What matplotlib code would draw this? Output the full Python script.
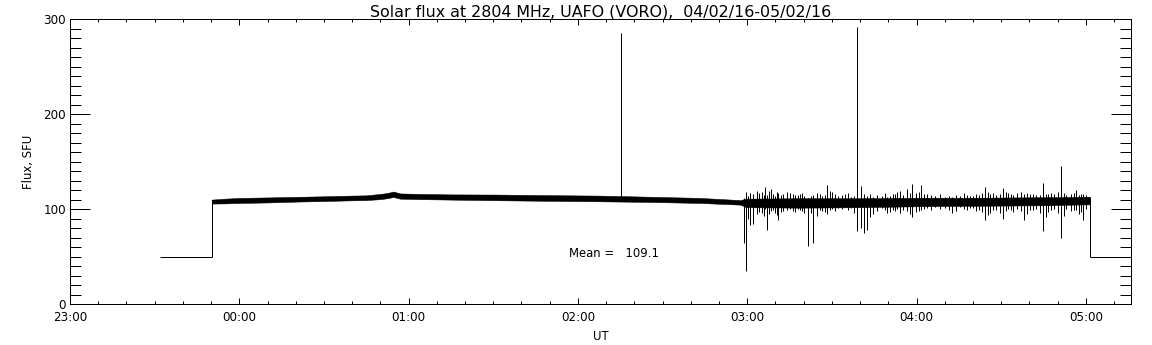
import matplotlib
matplotlib.use("Agg")
import matplotlib.pyplot as plt
from matplotlib.ticker import FixedLocator, MultipleLocator

# ---- DATA (time in minutes after 23:00 UT, flux in SFU) ------------------
TITLE = "Solar flux at 2804 MHz, UAFO (VORO),  04/02/16-05/02/16"
TICK_MIN = [0, 60, 120, 180, 240, 300, 360]
TICK_LABELS = ["23:00", "00:00", "01:00", "02:00", "03:00", "04:00", "05:00"]
MEAN_FLUX = 109.1

# filler value written outside the recording window
PAD_LEVEL = 50.0
PAD_BEFORE = [32.0, 50.2]
PAD_AFTER = [361.3, 376.0]

# dense trace, drawn as its lower/upper envelope
BAND_T = [50.2, 55.0, 60.3, 70.0, 81.6, 90.0, 99.3, 105.0, 110.0, 112.5,
          114.6, 117.0, 124.0, 135.0, 152.0, 170.0, 188.0, 206.0, 223.0,
          237.5, 239.7, 258.7, 280.0, 301.0, 322.0, 344.0, 361.3]
BAND_LO = [105.8, 106.0, 106.5, 107.0, 108.0, 108.5, 109.2, 109.5, 110.5,
           111.5, 112.8, 111.0, 110.5, 110.0, 109.3, 108.7, 108.2, 107.5,
           106.5, 104.7, 102.0, 101.5, 102.0, 103.0, 103.5, 104.0, 105.0]
BAND_HI = [110.0, 111.0, 111.8, 112.3, 113.0, 113.5, 114.2, 114.5, 116.0,
           117.0, 118.5, 116.5, 116.0, 115.5, 115.3, 114.7, 114.2, 113.0,
           111.8, 109.5, 111.0, 111.5, 111.5, 112.0, 112.0, 112.5, 113.0]

# isolated excursions above/below the trace
SPIKE_T = [195.4, 239.0, 239.7, 241.1, 242.1, 243.5, 245.3, 246.4, 247.1,
           248.5, 249.9, 251.0, 252.8, 255.3, 257.0, 258.8, 260.2, 261.6,
           263.4, 264.8, 266.6, 268.3, 270.1, 272.2, 274.7, 276.8, 278.9,
           280.4, 281.4, 282.4, 284.6, 287.8, 289.6, 291.7, 293.1, 295.3,
           296.7, 298.5, 299.9, 301.7, 303.8, 306.6, 310.2, 312.6, 315.5,
           318.0, 320.1, 322.2, 324.4, 326.1, 328.3, 330.7, 332.5, 334.3,
           335.7, 338.2, 340.3, 342.4, 344.9, 346.7, 348.8, 351.3, 353.0,
           354.8, 356.6, 357.6, 359.1, 360.2]
SPIKE_LO = [109, 64, 35, 83, 84, 95, 96, 100, 78,
            98, 96, 88, 98, 100, 97, 99, 96, 61,
            64.5, 93, 98, 95, 100, 101, 102, 101, 77,
            80, 75, 78, 95, 101, 96, 99, 100, 99,
            98, 92, 97, 99, 101, 102, 101, 96, 102,
            99, 101, 99, 88, 95.6, 99, 90, 100, 97,
            100, 88, 99, 100, 77, 97, 100, 69.5, 100,
            98, 99, 95, 88, 100]
SPIKE_HI = [286, 112, 118, 117, 116, 119, 118, 123, 115,
            121, 114, 117, 116, 117, 115, 116, 114, 112,
            115, 117, 114, 125, 118, 114, 116, 113, 292,
            124, 116, 114, 113, 114, 113, 116, 118, 115,
            121, 126, 117, 125, 116, 114, 113, 113, 114,
            115, 114, 115, 123, 116, 115, 122, 117, 115,
            117, 116, 116, 115, 127, 116, 116, 145, 115,
            116, 120, 115, 116, 115]

# smaller flicker after 03:00
NOISE_T = [240.4, 244.3, 246.0, 247.8, 249.2, 250.5, 252.0, 254.0, 256.2,
           258.0, 259.5, 262.5, 265.7, 267.4, 269.2, 271.2, 273.5, 275.8,
           277.8, 283.5, 286.0, 288.7, 290.6, 292.4, 294.2, 297.6, 300.8,
           302.8, 305.0, 308.4, 311.4, 314.0, 316.8, 319.0, 321.2, 323.3,
           325.2, 327.2, 329.5, 331.6, 333.4, 337.0, 339.3, 341.4, 343.6,
           345.8, 347.8, 350.0, 352.2, 355.7, 358.4]
NOISE_LO = [90, 97, 93, 95, 99, 94, 97, 99, 98,
            100, 98, 96, 99, 97, 99, 98, 100, 99,
            96, 92, 98, 99, 97, 98, 96, 95, 98,
            100, 99, 100, 99, 98, 100, 101, 98, 97,
            94, 99, 96, 98, 99, 98, 95, 99, 96,
            92, 99, 96, 93, 99, 97]
NOISE_HI = [114, 117, 115, 119, 116, 118, 115, 118, 116,
            115, 117, 114, 116, 115, 119, 116, 115, 117,
            114, 116, 115, 117, 114, 116, 119, 117, 118,
            116, 115, 116, 114, 115, 117, 114, 116, 117,
            118, 117, 116, 118, 116, 118, 117, 116, 115,
            116, 117, 118, 117, 117, 116]

# ---- PLOT ----------------------------------------------------------------
plt.rcParams["font.family"] = "DejaVu Sans"
PT = 72 / 100  # points per pixel at dpi=100

fig = plt.figure(figsize=(11.52, 3.45), dpi=100)
ax = fig.add_axes([70 / 1152, 1 - 304 / 345, (1131 - 70) / 1152, (304 - 19.3) / 345])

lw = 1.0 * PT
ax.hlines(PAD_LEVEL, PAD_BEFORE[0], PAD_BEFORE[1], color="k", lw=lw)
ax.hlines(PAD_LEVEL, PAD_AFTER[0], PAD_AFTER[1], color="k", lw=lw)
ax.vlines([PAD_BEFORE[1], PAD_AFTER[0]], PAD_LEVEL, [BAND_HI[0], BAND_HI[-1]],
          color="k", lw=lw)
ax.fill_between(BAND_T, BAND_LO, BAND_HI, color="k", lw=0.5 * PT)
ax.vlines(SPIKE_T, SPIKE_LO, SPIKE_HI, color="k", lw=lw)
ax.vlines(NOISE_T, NOISE_LO, NOISE_HI, color="k", lw=lw)

ax.text(176.7, 53.7, f"Mean =   {MEAN_FLUX}", ha="left", va="center", fontsize=8.4)

ax.set_xlim(0, PAD_AFTER[1])
ax.set_ylim(0, 300)
ax.xaxis.set_major_locator(FixedLocator(TICK_MIN))
ax.set_xticklabels(TICK_LABELS)
ax.xaxis.set_minor_locator(MultipleLocator(10))
ax.yaxis.set_major_locator(MultipleLocator(100))
ax.yaxis.set_minor_locator(MultipleLocator(10))

for s in ax.spines.values():
    s.set_linewidth(lw)
ax.tick_params(axis="x", which="major", direction="in", length=6 * PT, width=lw,
               top=True, bottom=True, labelsize=8.6, pad=5)
ax.tick_params(axis="x", which="minor", direction="in", length=3 * PT, width=lw,
               top=True, bottom=True)
ax.tick_params(axis="y", which="major", direction="in", length=20 * PT, width=lw,
               left=True, right=True, labelsize=8.6, pad=3)
ax.tick_params(axis="y", which="minor", direction="in", length=11 * PT, width=lw,
               left=True, right=True)

ax.set_xlabel("UT", fontsize=8.4, labelpad=4)
ax.set_ylabel("Flux, SFU", fontsize=8.4, labelpad=6)
ax.set_title(TITLE, fontsize=11.4, pad=2)

fig.savefig("out.png", dpi=100)
